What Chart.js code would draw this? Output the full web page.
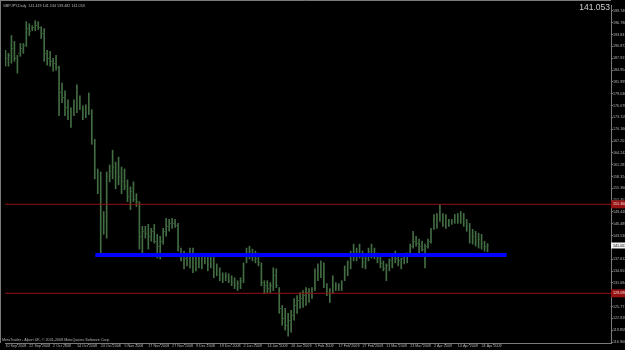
<!DOCTYPE html>
<html>
<head>
<meta charset="utf-8">
<script src="https://cdn.jsdelivr.net/npm/chart.js@4.4.1/dist/chart.umd.min.js"></script>
<style>
  html, body { margin: 0; padding: 0; background: #000; }
  canvas { display: block; }
</style>
</head>
<body>
<canvas id="myChart" width="625" height="350"></canvas>
<script>
const symbolTitle = "GBPJPY,Daily  141.419 141.534 139.482 141.053";
const copyright = "MetaTrader - Alpari UK, © 2001-2008 MetaQuotes Software Corp.";
const lastPrice = 141.053;

// one date label every 8 bars
const dateLabels = [
  "10 Sep 2008", "22 Sep 2008", "2 Oct 2008", "14 Oct 2008", "24 Oct 2008",
  "5 Nov 2008", "17 Nov 2008", "27 Nov 2008", "9 Dec 2008", "19 Dec 2008",
  "2 Jan 2009", "14 Jan 2009", "26 Jan 2009", "5 Feb 2009", "17 Feb 2009",
  "27 Feb 2009", "11 Mar 2009", "23 Mar 2009", "2 Apr 2009", "14 Apr 2009",
  "24 Apr 2009"
];
const labelEvery = 8;

const priceTicks = [
  116.900, 119.859, 122.818, 125.777, 128.736, 131.694, 134.653, 137.612,
  140.571, 143.530, 146.489, 149.448, 152.407, 155.366, 158.324, 161.283,
  164.242, 167.201, 170.160, 173.119, 176.078, 179.036, 181.995, 184.954,
  187.913, 190.872, 193.831, 196.790, 199.749
];

// daily bars, 10 Sep 2008 .. 28 Apr 2009
const highs = [
  189.88, 189.14, 193.60, 192.11, 188.65, 191.61, 191.61, 197.06, 196.56, 196.07,
  197.31, 197.06, 195.82, 195.32, 189.88, 189.63, 187.90, 188.65, 185.93, 181.72,
  179.74, 177.51, 175.53, 177.51, 181.23, 178.50, 176.03, 176.28, 179.24, 175.04,
  167.62, 160.20, 159.45, 149.56, 159.45, 161.19, 164.89, 161.93, 163.16, 160.69,
  160.20, 157.47, 155.74, 156.98, 154.01, 152.03, 145.84, 145.84, 146.34, 145.35,
  146.34, 143.87, 143.37, 145.35, 147.83, 147.58, 147.83, 147.58, 146.59, 140.40,
  139.66, 139.17, 140.40, 140.40, 138.42, 138.92, 139.17, 138.42, 138.92, 138.92,
  138.42, 136.45, 135.46, 134.22, 134.22, 133.97, 133.47, 132.98, 132.24, 132.98,
  136.70, 140.40, 140.89, 140.15, 139.66, 139.17, 136.70, 132.24, 132.24, 131.75,
  135.46, 135.21, 130.51, 126.05, 125.31, 124.08, 124.82, 127.78, 128.52, 129.27,
  129.76, 130.51, 130.26, 130.51, 135.21, 136.45, 137.19, 136.70, 131.50, 130.26,
  133.47, 131.75, 131.50, 132.24, 135.95, 137.19, 139.66, 141.39, 140.40, 141.39,
  139.66, 138.42, 140.40, 141.39, 140.40, 139.17, 138.92, 137.19, 136.45, 137.68,
  138.92, 139.66, 138.42, 137.93, 138.92, 139.17, 141.39, 144.61, 143.37, 142.63,
  142.13, 141.39, 142.63, 145.35, 148.82, 149.07, 151.29, 149.07, 148.82, 147.58,
  147.58, 148.82, 149.07, 149.56, 149.07, 147.58, 146.59, 145.10, 144.61, 144.12,
  143.87, 142.13, 141.534
];
const lows = [
  185.93, 185.93, 186.67, 187.16, 184.19, 188.40, 189.14, 190.87, 193.60, 194.83,
  194.83, 195.08, 192.85, 187.16, 186.18, 185.93, 184.69, 184.94, 173.56, 176.77,
  173.56, 172.57, 170.58, 173.56, 174.30, 175.04, 172.57, 173.06, 173.81, 166.38,
  157.72, 154.01, 139.17, 143.87, 142.88, 156.98, 157.72, 155.25, 156.24, 154.01,
  155.00, 152.03, 150.05, 152.03, 150.79, 140.15, 138.92, 142.88, 140.15, 142.13,
  141.64, 137.93, 137.68, 141.39, 143.37, 144.61, 145.35, 145.60, 139.66, 137.19,
  135.21, 135.95, 135.46, 134.22, 134.71, 135.46, 135.21, 136.45, 134.71, 135.46,
  132.98, 133.47, 132.24, 131.75, 132.24, 131.75, 131.00, 130.26, 129.76, 130.26,
  131.75, 136.70, 137.68, 137.19, 136.70, 135.95, 131.00, 129.02, 129.27, 129.27,
  129.76, 130.51, 124.08, 121.10, 119.87, 118.39, 119.38, 122.34, 124.08, 125.31,
  125.56, 126.05, 126.80, 127.78, 129.76, 132.24, 132.98, 130.51, 128.52, 126.80,
  129.02, 129.76, 129.76, 129.76, 132.24, 133.47, 135.21, 137.19, 137.19, 137.93,
  135.46, 135.21, 137.19, 137.93, 137.68, 136.70, 135.46, 134.71, 132.24, 134.71,
  135.46, 136.70, 135.95, 135.21, 136.45, 136.70, 139.17, 140.40, 140.89, 138.92,
  139.66, 135.46, 140.40, 141.64, 145.10, 145.35, 147.08, 145.84, 145.35, 145.84,
  146.34, 146.59, 146.59, 146.59, 145.84, 144.61, 141.64, 141.39, 140.89, 140.40,
  140.15, 139.66, 139.482
];
const closes = [
  187.90, 188.65, 190.37, 187.90, 189.14, 190.37, 191.12, 195.32, 194.58, 195.57,
  196.07, 195.57, 194.09, 189.14, 187.90, 187.16, 186.67, 185.68, 179.24, 178.00,
  175.53, 173.81, 174.30, 176.77, 178.00, 175.53, 174.79, 174.30, 174.79, 168.11,
  159.45, 155.74, 148.32, 147.08, 158.21, 159.45, 160.69, 159.45, 158.21, 156.98,
  155.74, 153.26, 154.50, 152.52, 152.03, 143.37, 144.61, 144.12, 143.37, 144.61,
  142.13, 140.89, 142.13, 144.61, 145.84, 146.59, 146.59, 146.09, 140.89, 138.42,
  137.68, 137.19, 138.42, 135.95, 137.19, 136.70, 137.68, 137.19, 136.70, 135.95,
  134.22, 134.71, 133.47, 132.73, 133.23, 132.24, 131.75, 131.00, 131.50, 132.24,
  135.95, 138.42, 139.66, 138.42, 137.68, 136.70, 131.75, 131.00, 130.26, 131.00,
  133.47, 131.00, 125.31, 122.84, 121.10, 122.34, 123.58, 126.05, 127.29, 127.78,
  128.52, 129.27, 129.02, 129.76, 134.22, 135.21, 135.95, 131.00, 130.26, 129.27,
  131.00, 130.76, 131.00, 131.75, 134.71, 136.70, 138.42, 139.66, 139.17, 138.42,
  136.70, 137.68, 139.66, 139.17, 138.42, 137.68, 136.45, 135.21, 135.95, 137.19,
  138.42, 137.68, 137.19, 137.68, 138.42, 138.92, 140.89, 142.13, 141.64, 140.89,
  140.15, 140.89, 142.13, 144.61, 147.08, 148.32, 148.32, 147.08, 147.58, 147.08,
  147.08, 147.58, 148.32, 148.32, 146.59, 145.84, 143.37, 143.37, 142.13, 142.63,
  141.64, 140.89, 141.053
];

// horizontal lines and the trend line (bar index, price)
const redLevels = [151.36, 129.09];
const trendFrom = 30.2;
const trendTo = 168.4;
const trendPrice = 138.67;

const barColor = "rgb(66,108,66)";
const tickColor = "rgb(48,80,48)";
const redColor = "rgb(150,18,18)";
const frameColor = "#7a7a7a";
const textColor = "#b4b4b4";
const smallFont = { family: "Liberation Sans", size: 3.7, lineHeight: 0.5 };

// close tick: 1px to the right of the bar
const closeTick = document.createElement("canvas");
closeTick.width = 3;
closeTick.height = 1;
const tctx = closeTick.getContext("2d");
tctx.fillStyle = tickColor;
tctx.fillRect(2, 0, 1, 1);

const overlay = {
  id: "overlay",
  beforeDraw(chart) {
    const c = chart.ctx;
    c.save();
    c.fillStyle = "#000";
    c.fillRect(0, 0, chart.width, chart.height);
    c.restore();
  },
  afterDraw(chart) {
    const c = chart.ctx;
    const y = chart.scales.y;
    const area = chart.chartArea;
    c.save();
    c.strokeStyle = frameColor;
    c.lineWidth = 1;
    c.beginPath();
    c.moveTo(0, 0.5);
    c.lineTo(area.right, 0.5);
    c.moveTo(0.5, 0);
    c.lineTo(0.5, area.bottom);
    c.stroke();

    c.font = "3.7px 'Liberation Sans'";
    c.textBaseline = "middle";
    c.textAlign = "left";
    redLevels.forEach((v) => {
      const py = y.getPixelForValue(v);
      c.fillStyle = redColor;
      c.fillRect(area.right, py - 4, 14, 8);
      c.fillStyle = "#f4dada";
      c.fillText(v.toFixed(3), area.right + 2, py);
    });
    const ly = y.getPixelForValue(lastPrice);
    c.fillStyle = "#f0f0f0";
    c.fillRect(area.right, ly - 3, 14, 6);
    c.fillStyle = "#000";
    c.fillText(lastPrice.toFixed(3), area.right + 2, ly);

    c.fillStyle = textColor;
    c.textBaseline = "alphabetic";
    c.fillText(symbolTitle, 3, 6.5);
    c.fillText(copyright, 2, 341);

    c.font = "8.5px 'Liberation Sans'";
    c.textAlign = "right";
    c.fillStyle = "#d0d0d0";
    c.fillText(lastPrice.toFixed(3), 610, 10);
    c.restore();
  }
};

new Chart(document.getElementById("myChart"), {
  type: "scatter",
  data: {
    datasets: [
      {
        type: "line",
        data: [{ x: trendFrom, y: trendPrice }, { x: trendTo, y: trendPrice }],
        borderColor: "#0000ff",
        borderWidth: 4,
        borderCapStyle: "butt",
        pointRadius: 0,
        fill: false,
        order: 0,
      },
      ...redLevels.map((v) => ({
        type: "line",
        data: [{ x: -1, y: v }, { x: 210, y: v }],
        borderColor: redColor,
        borderWidth: 1,
        pointRadius: 0,
        fill: false,
        order: 1,
      })),
      {
        type: "scatter",
        data: closes.map((v, i) => ({ x: i, y: v })),
        pointStyle: closeTick,
        pointRadius: 1,
        order: 2,
      },
      {
        type: "bar",
        data: highs.map((h, i) => ({ x: i, y: [lows[i], h] })),
        backgroundColor: barColor,
        borderWidth: 0,
        barThickness: 1,
        order: 3,
      },
    ],
  },
  options: {
    responsive: false,
    devicePixelRatio: 1,
    animation: false,
    events: [],
    layout: { padding: { top: 1, left: 0, right: 0, bottom: 0 } },
    plugins: {
      legend: { display: false },
      tooltip: { enabled: false },
    },
    scales: {
      x: {
        type: "linear",
        position: "bottom",
        min: -0.1667,
        max: 203.5,
        offset: false,
        afterBuildTicks: (s) => {
          s.ticks = dateLabels.map((d, k) => ({ value: k * labelEvery }));
        },
        afterFit: (s) => { s.height = 7; },
        ticks: {
          autoSkip: false,
          maxRotation: 0,
          minRotation: 0,
          align: "start",
          padding: 0,
          color: textColor,
          font: smallFont,
          callback: (v, i) => dateLabels[i],
        },
        grid: { drawOnChartArea: false, tickLength: 2, color: frameColor },
        border: { display: true, color: frameColor },
      },
      y: {
        type: "linear",
        position: "right",
        min: 116.65,
        max: 201.24,
        afterBuildTicks: (s) => {
          s.ticks = priceTicks.map((v) => ({ value: v }));
        },
        afterFit: (s) => { s.width = 14; },
        ticks: {
          padding: 0,
          color: textColor,
          font: smallFont,
          callback: (v) => v.toFixed(3),
        },
        grid: { drawOnChartArea: false, tickLength: 2, color: frameColor },
        border: { display: true, color: frameColor },
      },
    },
  },
  plugins: [overlay],
});
</script>
</body>
</html>
